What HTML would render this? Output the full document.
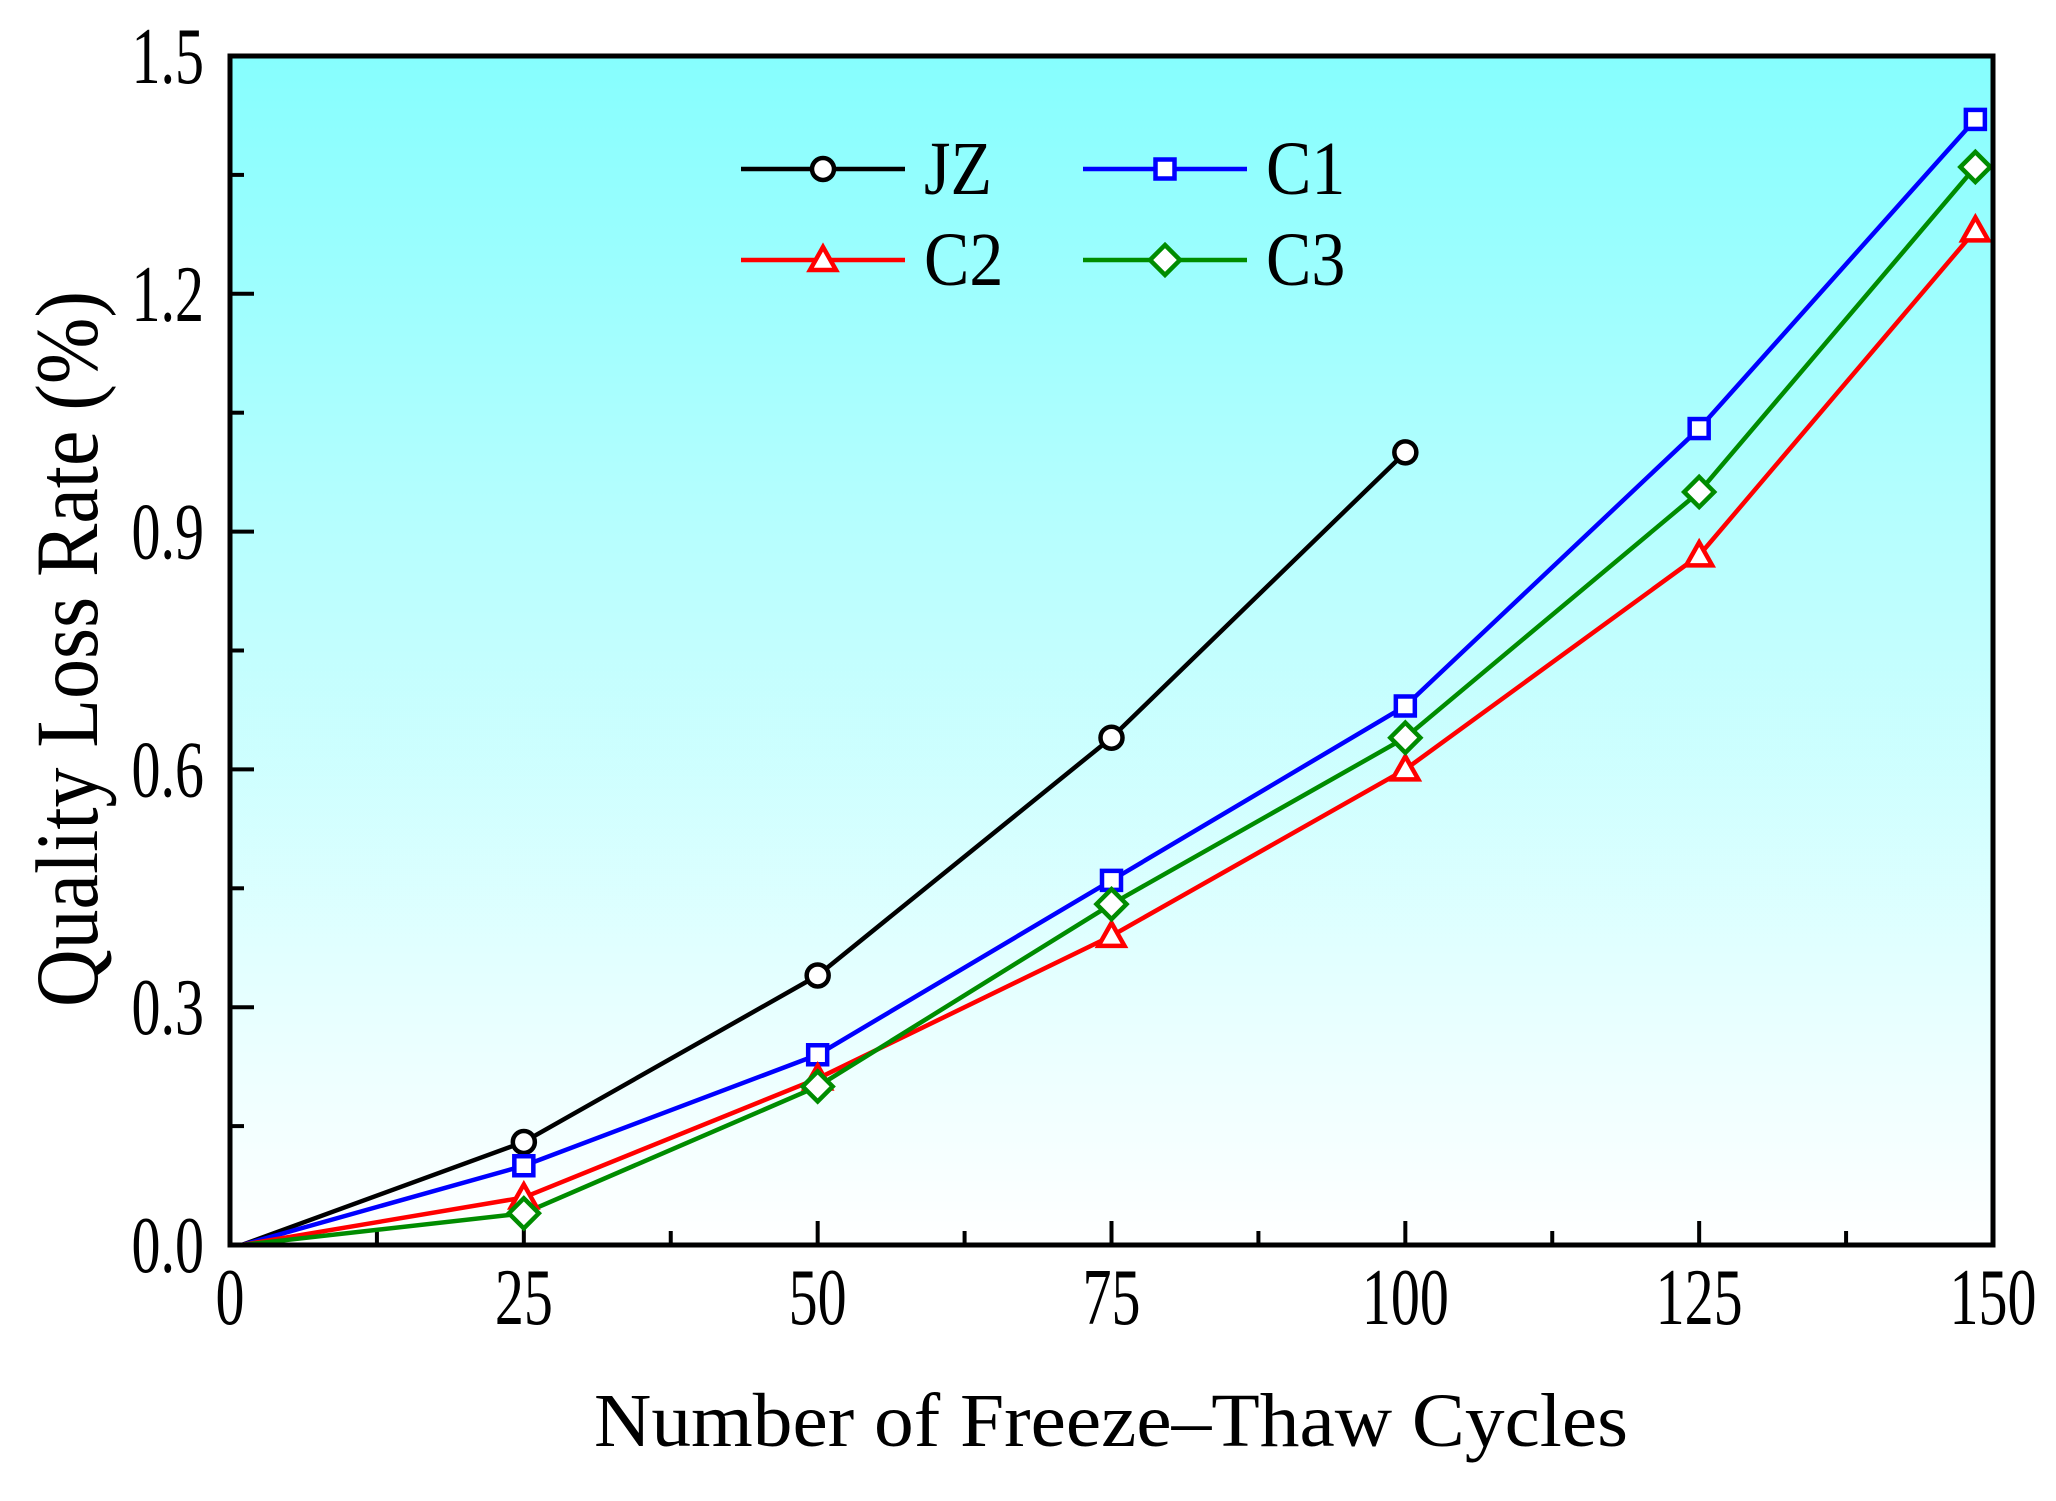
<!DOCTYPE html>
<html><head><meta charset="utf-8"><style>
html,body{margin:0;padding:0;background:#fff;}
svg{display:block;font-family:"Liberation Serif","Times New Roman",serif;}
</style></head><body>
<svg id="chart" width="2056" height="1501" viewBox="0 0 2056 1501" xmlns="http://www.w3.org/2000/svg">
<defs>
<linearGradient id="bg" x1="0" y1="0" x2="0" y2="1">
<stop offset="0" stop-color="#86fefe"/>
<stop offset="1" stop-color="#ffffff"/>
</linearGradient>
<clipPath id="clip"><rect x="230" y="56" width="1763" height="1189"/></clipPath>
</defs>
<rect x="230" y="56" width="1763" height="1189" fill="url(#bg)"/>
<g id="ticks"></g>
<g id="series" clip-path="url(#clip)"></g>
<g id="markers"></g>
<rect x="230" y="56" width="1763" height="1189" fill="none" stroke="#000" stroke-width="5"/>
<g id="labels" font-size="58" fill="#000"></g>
<g transform="translate(1111,1446) scale(1,1.08)"><text x="0" y="0" font-size="71" text-anchor="middle" textLength="1034" lengthAdjust="spacingAndGlyphs">Number of Freeze–Thaw Cycles</text></g>
<g transform="translate(97,649) rotate(-90) scale(1,1.2)"><text x="0" y="0" font-size="74" text-anchor="middle" textLength="716" lengthAdjust="spacingAndGlyphs">Quality Loss Rate (%)</text></g>
<g id="legend"></g>
</svg>
<script>
const xCycles = [1, 25, 50, 75, 100, 125, 148.5];
const jzValues = [0, 0.13, 0.34, 0.64, 1.0];
const c1Values = [0, 0.10, 0.24, 0.46, 0.68, 1.03, 1.42];
const c2Values = [0, 0.06, 0.21, 0.39, 0.60, 0.87, 1.28];
const c3Values = [0, 0.04, 0.20, 0.43, 0.64, 0.95, 1.36];
const xTicks = [0, 25, 50, 75, 100, 125, 150];
const yTicks = [0, 0.3, 0.6, 0.9, 1.2, 1.5];
const yTickLabels = ["0.0", "0.3", "0.6", "0.9", "1.2", "1.5"];
const seriesNames = ["JZ", "C1", "C2", "C3"];

const NS = "http://www.w3.org/2000/svg";
const X0 = 230, X1 = 1993, Y0 = 1245, Y1 = 56;
function sx(v){ return X0 + (v - 0) / 150 * (X1 - X0); }
function sy(v){ return Y0 - (v - 0) / 1.5 * (Y0 - Y1); }
function mk(tag, attrs, parent){
  const e = document.createElementNS(NS, tag);
  for (const k in attrs) e.setAttribute(k, attrs[k]);
  parent.appendChild(e);
  return e;
}
const gT = document.getElementById('ticks');
const gL = document.getElementById('labels');
const gS = document.getElementById('series');
const gM = document.getElementById('markers');
const gLeg = document.getElementById('legend');

function label(x, y, anchor, str, name){
  const g = mk('g', {transform: `translate(${x},${y}) scale(1,1.38)`}, gL);
  const lb = mk('text', {x: 0, y: 0, 'text-anchor': anchor}, g);
  lb.textContent = str;
  
  
}

xTicks.forEach((t, i) => {
  const x = sx(t);
  const tk = mk('line', {x1: x, x2: x, y1: Y0, y2: Y0 - 24, stroke: '#000', 'stroke-width': 4}, gT);
  
  
  if (i < xTicks.length - 1) {
    const xm = sx(t + 12.5);
    const mt = mk('line', {x1: xm, x2: xm, y1: Y0, y2: Y0 - 14, stroke: '#000', 'stroke-width': 4}, gT);
    
    
  }
  label(x, 1324, 'middle', String(t), 'x-tick-label');
});
yTicks.forEach((t, i) => {
  const y = sy(t);
  const tk = mk('line', {x1: X0, x2: X0 + 24, y1: y, y2: y, stroke: '#000', 'stroke-width': 4}, gT);
  
  
  if (i < yTicks.length - 1) {
    const ym = sy(t + 0.15);
    const mt = mk('line', {x1: X0, x2: X0 + 14, y1: ym, y2: ym, stroke: '#000', 'stroke-width': 4}, gT);
    
    
  }
  label(204, y + 27, 'end', yTickLabels[i], 'y-tick-label');
});

function marker(shape, x, y, color, parent){
  let e;
  if (shape === 'circle') e = mk('circle', {cx: x, cy: y, r: 11}, parent);
  else if (shape === 'square') e = mk('rect', {x: x - 9.5, y: y - 9.5, width: 19, height: 19}, parent);
  else if (shape === 'triangle') e = mk('polygon', {points: `${x},${y-13} ${x+13},${y+10} ${x-13},${y+10}`}, parent);
  else e = mk('polygon', {points: `${x},${y-15} ${x+15},${y} ${x},${y+15} ${x-15},${y}`}, parent);
  e.setAttribute('fill', '#fff');
  e.setAttribute('stroke', color);
  e.setAttribute('stroke-width', 4.5);
  return e;
}

const seriesList = [
  {vals: jzValues, color: '#000000', shape: 'circle'},
  {vals: c1Values, color: '#0000ff', shape: 'square'},
  {vals: c2Values, color: '#ff0000', shape: 'triangle'},
  {vals: c3Values, color: '#008c00', shape: 'diamond'}
];
seriesList.forEach((s, si) => {
  const pts = s.vals.map((v, i) => sx(xCycles[i]) + ',' + sy(v)).join(' ');
  const pl = mk('polyline', {points: pts, fill: 'none', stroke: s.color, 'stroke-width': 4.5, 'stroke-linejoin': 'round'}, gS);
  
  
  s.vals.forEach((v, i) => {
    if (i === 0) return;
    const m = marker(s.shape, sx(xCycles[i]), sy(v), s.color, gM);
    
    
  });
});

const legPos = [[741, 169], [1083, 169], [741, 260], [1083, 260]];
[0, 1, 2, 3].forEach((si, k) => {
  const [lx, ly] = legPos[k];
  const s = seriesList[si];
  const g = mk('g', {}, gLeg);
  
  
  mk('line', {x1: lx, x2: lx + 164, y1: ly, y2: ly, stroke: s.color, 'stroke-width': 4.5}, g);
  marker(s.shape, lx + 82, ly, s.color, g);
  const tg = mk('g', {transform: `translate(${lx + 183},${ly + 25}) scale(1,1.12)`}, g);
  const t = mk('text', {x: 0, y: 0, 'font-size': 68}, tg);
  t.textContent = seriesNames[si];
});
</script>
</body></html>
